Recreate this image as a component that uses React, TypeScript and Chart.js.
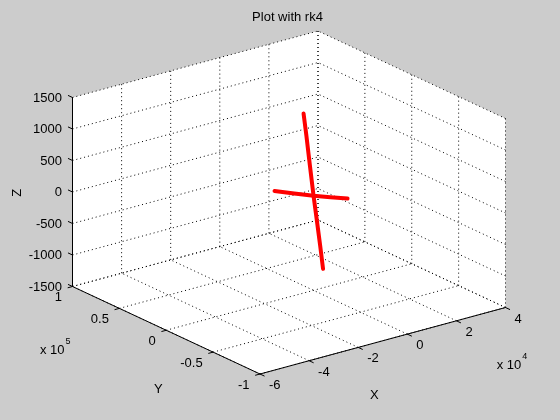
import React, { useEffect, useRef } from 'react';
import { Chart, registerables } from 'chart.js';

Chart.register(...registerables);

// ---- axis limits and ticks ----
const xLimits = [-60000, 40000];
const yLimits = [-100000, 100000];
const zLimits = [-1500, 1500];
const xTicks = [-60000, -40000, -20000, 0, 20000, 40000];
const xTickLabels = ['-6', '-4', '-2', '0', '2', '4'];
const yTicks = [-100000, -50000, 0, 50000, 100000];
const yTickLabels = ['-1', '-0.5', '0', '0.5', '1'];
const zTicks = [-1500, -1000, -500, 0, 500, 1000, 1500];
const zTickLabels = ['-1500', '-1000', '-500', '0', '500', '1000', '1500'];
const xExponent = '4';
const yExponent = '5';
const titleText = 'Plot with rk4';

// ---- trajectory data (rk4) ----
const trajAX = [-4070, -2900, -1500, 0, 1400, 2700, 3870];
const trajAY = [0, 0, 0, 0, 0, 0, 0];
const trajAZ = [1350, 980, 500, 0, -420, -820, -1200];

const trajBX = [-7380, -3700, 0, 3600, 7300];
const trajBY = [22300, 11000, 0, -8500, -17140];
const trajBZ = [0, 0, 0, 0, 0];

// ---- view (orthographic projection of the normalised box) ----
const ORIGIN = { x: 260, y: 374 };
const EX = { x: 245.5, y: -66.5 };
const EY = { x: -187.5, y: -87.5 };
const EZ = { x: 0, y: -189 };

function project(x: number, y: number, z: number) {
  const a = (x - xLimits[0]) / (xLimits[1] - xLimits[0]);
  const b = (y - yLimits[0]) / (yLimits[1] - yLimits[0]);
  const c = (z - zLimits[0]) / (zLimits[1] - zLimits[0]);
  return {
    x: ORIGIN.x + a * EX.x + b * EY.x + c * EZ.x,
    y: ORIGIN.y + a * EX.y + b * EY.y + c * EZ.y,
  };
}

const FONT = (px: number) => `${px}px "Liberation Sans", Arial, sans-serif`;

function seg(p: number[], q: number[]) {
  return [project(p[0], p[1], p[2]), project(q[0], q[1], q[2])];
}

function buildGrid() {
  const [x0, x1] = xLimits;
  const [y0, y1] = yLimits;
  const [z0, z1] = zLimits;
  const lines: { x: number; y: number }[][] = [];
  // back wall y = yMax
  xTicks.forEach((x) => lines.push(seg([x, y1, z0], [x, y1, z1])));
  zTicks.forEach((z) => lines.push(seg([x0, y1, z], [x1, y1, z])));
  // back wall x = xMax
  yTicks.forEach((y) => lines.push(seg([x1, y, z0], [x1, y, z1])));
  zTicks.forEach((z) => lines.push(seg([x1, y0, z], [x1, y1, z])));
  // floor z = zMin
  xTicks.forEach((x) => lines.push(seg([x, y0, z0], [x, y1, z0])));
  yTicks.forEach((y) => lines.push(seg([x0, y, z0], [x1, y, z0])));
  return lines;
}

function buildAxes() {
  const [x0, x1] = xLimits;
  const [y0, y1] = yLimits;
  const [z0, z1] = zLimits;
  return [
    seg([x0, y1, z0], [x0, y1, z1]), // Z axis
    seg([x0, y0, z0], [x0, y1, z0]), // Y axis
    seg([x0, y0, z0], [x1, y0, z0]), // X axis
  ];
}

function traj(xs: number[], ys: number[], zs: number[]) {
  return xs.map((x, i) => project(x, ys[i], zs[i]));
}

const matlabAxes = {
  id: 'matlabAxes',
  beforeDatasetsDraw(chart: any) {
    const { ctx, scales } = chart;
    const sx = scales.x;
    const sy = scales.y;
    const P = (x: number, y: number, z: number) => {
      const p = project(x, y, z);
      return { x: sx.getPixelForValue(p.x), y: sy.getPixelForValue(p.y) };
    };
    const [x0, x1] = xLimits;
    const [y0, y1] = yLimits;
    const [z0, z1] = zLimits;
    const corners = [
      P(x0, y1, z1), P(x1, y1, z1), P(x1, y0, z1),
      P(x1, y0, z0), P(x0, y0, z0), P(x0, y1, z0),
    ];
    ctx.save();
    ctx.fillStyle = '#ffffff';
    ctx.beginPath();
    corners.forEach((c, i) => (i ? ctx.lineTo(c.x, c.y) : ctx.moveTo(c.x, c.y)));
    ctx.closePath();
    ctx.fill();
    ctx.restore();
  },
  afterDraw(chart: any) {
    const { ctx, scales } = chart;
    const sx = scales.x;
    const sy = scales.y;
    const P = (x: number, y: number, z: number) => {
      const p = project(x, y, z);
      return { x: sx.getPixelForValue(p.x), y: sy.getPixelForValue(p.y) };
    };
    const [x0, x1] = xLimits;
    const [y0, y1] = yLimits;
    const [z0] = zLimits;
    const unit = (a: any, b: any) => {
      const dx = b.x - a.x, dy = b.y - a.y;
      const l = Math.hypot(dx, dy);
      return { x: dx / l, y: dy / l };
    };
    const uY = unit(P(x0, y0, z0), P(x0, y1, z0));
    const uX = unit(P(x0, y0, z0), P(x1, y0, z0));
    const TL = 5;
    ctx.save();
    ctx.strokeStyle = '#000';
    ctx.lineWidth = 1;
    ctx.beginPath();
    zTicks.forEach((z) => {
      const p = P(x0, y1, z);
      ctx.moveTo(p.x, p.y);
      ctx.lineTo(p.x + uY.x * TL, p.y + uY.y * TL);
    });
    yTicks.forEach((y) => {
      const p = P(x0, y, z0);
      ctx.moveTo(p.x, p.y);
      ctx.lineTo(p.x - uX.x * TL, p.y - uX.y * TL);
    });
    xTicks.forEach((x) => {
      const p = P(x, y0, z0);
      ctx.moveTo(p.x, p.y);
      ctx.lineTo(p.x - uY.x * TL, p.y - uY.y * TL);
    });
    ctx.stroke();

    ctx.fillStyle = '#000';
    ctx.font = FONT(13);
    ctx.textBaseline = 'middle';
    // Z tick labels
    ctx.textAlign = 'right';
    zTicks.forEach((z, i) => {
      const p = P(x0, y1, z);
      ctx.fillText(zTickLabels[i], p.x - 10.5, p.y + 0.5);
    });
    // Y tick labels
    yTicks.forEach((y, i) => {
      const p = P(x0, y, z0);
      ctx.fillText(yTickLabels[i], p.x - 10.5, p.y + 11);
    });
    // X tick labels
    ctx.textAlign = 'left';
    xTicks.forEach((x, i) => {
      const p = P(x, y0, z0);
      ctx.fillText(xTickLabels[i], p.x + 9, p.y + 11.5);
    });
    // exponents
    const drawExp = (ax: number, ay: number, sup: string) => {
      ctx.font = FONT(13);
      ctx.textAlign = 'left';
      ctx.fillText('x 10', ax, ay);
      const w = ctx.measureText('x 10').width;
      ctx.font = FONT(9);
      ctx.fillText(sup, ax + w + 1, ay - 8);
    };
    const yEnd = P(x0, y1, z0);
    drawExp(yEnd.x - 32.5, yEnd.y + 63.5, yExponent);
    const xEnd = P(x1, y0, z0);
    drawExp(xEnd.x - 8.8, xEnd.y + 57.5, xExponent);

    // axis labels
    ctx.font = FONT(13);
    ctx.textAlign = 'center';
    const yMid = P(x0, (y0 + y1) / 2, z0);
    ctx.fillText('Y', yMid.x - 8, yMid.y + 59);
    const xMid = P((x0 + x1) / 2, y0, z0);
    ctx.fillText('X', xMid.x - 8.5, xMid.y + 54.3);
    const zMid = P(x0, y1, 0);
    ctx.save();
    ctx.translate(zMid.x - 55.5, zMid.y + 0.7);
    ctx.rotate(-Math.PI / 2);
    ctx.fillText('Z', 0, 0);
    ctx.restore();

    // title
    ctx.fillText(titleText, 287.5, 17);
    ctx.restore();
  },
};

export default function App() {
  const ref = useRef<HTMLCanvasElement>(null);
  useEffect(() => {
    document.body.style.margin = '0';
    document.body.style.background = '#cccccc';
    const grid = buildGrid();
    const axes = buildAxes();
    const datasets: any[] = [];
    datasets.push({
      data: traj(trajAX, trajAY, trajAZ),
      borderColor: '#ff0000', borderWidth: 4, borderCapStyle: 'round', borderJoinStyle: 'round',
      order: 0,
    });
    datasets.push({
      data: traj(trajBX, trajBY, trajBZ),
      borderColor: '#ff0000', borderWidth: 4, borderCapStyle: 'round', borderJoinStyle: 'round',
      order: 0,
    });
    axes.forEach((l) => datasets.push({ data: l, borderColor: '#000000', borderWidth: 1, order: 1 }));
    grid.forEach((l) => datasets.push({ data: l, borderColor: '#000000', borderWidth: 1, borderDash: [1, 3], order: 2 }));
    datasets.forEach((d) => {
      d.showLine = true;
      d.pointRadius = 0;
      d.fill = false;
      d.tension = 0;
    });
    const chart = new Chart(ref.current!, {
      type: 'scatter',
      data: { datasets },
      options: {
        animation: false,
        responsive: false,
        events: [],
        layout: { padding: 0 },
        plugins: { legend: { display: false }, tooltip: { enabled: false }, title: { display: false } },
        scales: {
          x: { type: 'linear', min: 0, max: 560, display: false },
          y: { type: 'linear', min: 0, max: 420, reverse: true, display: false },
        },
      },
      plugins: [matlabAxes],
    });
    return () => chart.destroy();
  }, []);
  return (
    <div style={{ position: 'fixed', left: 0, top: 0, width: 560, height: 420, background: '#cccccc' }}>
      <canvas ref={ref} width={560} height={420} />
    </div>
  );
}
